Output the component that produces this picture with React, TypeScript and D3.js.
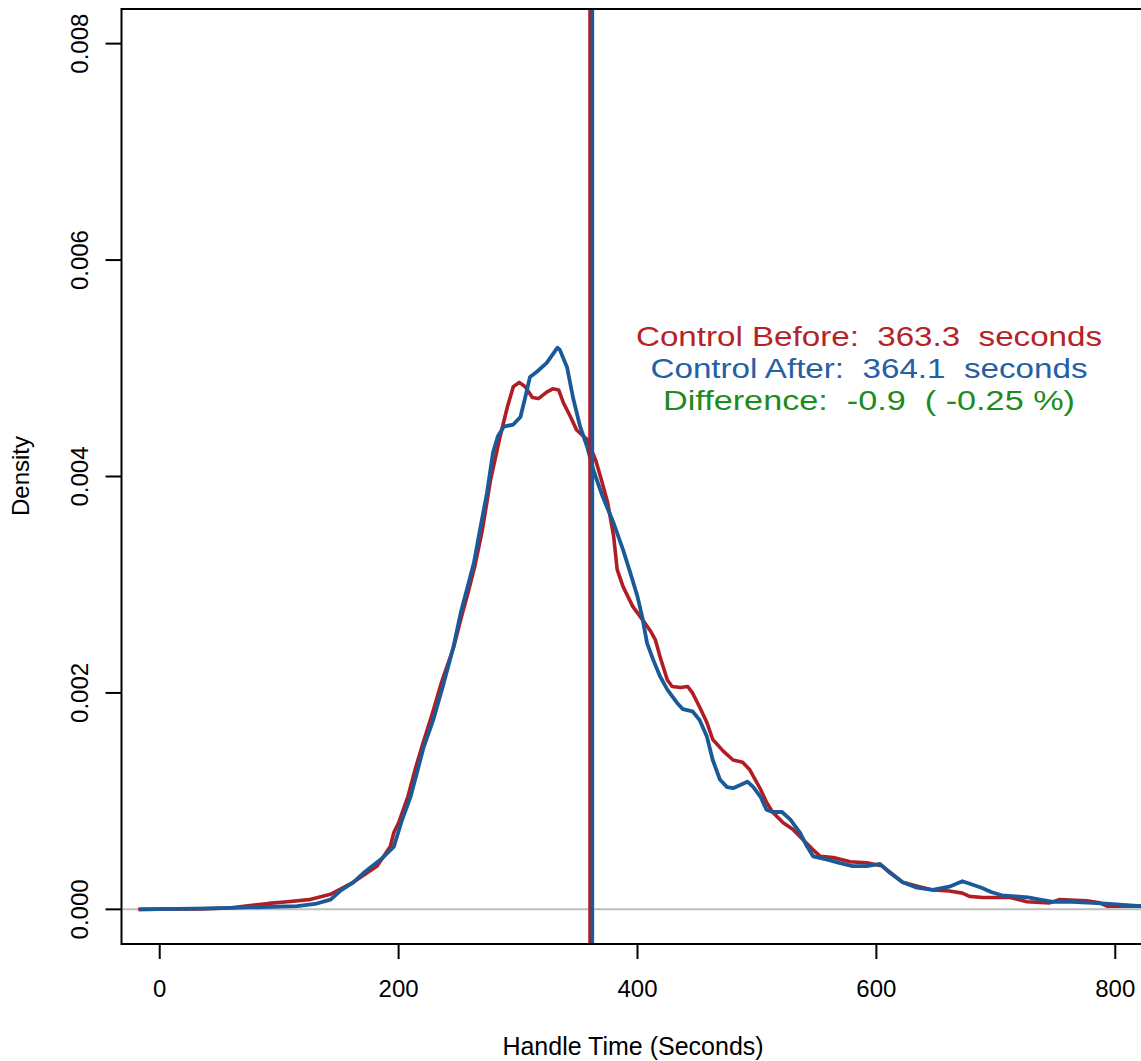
import React from "react";
import * as d3 from "d3";

const W = 1141;
const H = 1061;

// Density curves (time in seconds, density in units of 1e-3)
const beforeTime = [-18, 0, 34, 60, 91, 107, 125, 143, 162, 182, 193, 196, 200, 208, 214, 220, 228, 236, 246, 253, 258, 264, 270, 277, 285, 291, 296, 301, 306, 312, 317, 324, 329, 334, 338, 344, 349, 355, 358, 365, 369, 375, 380, 383, 388, 396, 404, 411, 415, 419, 425, 429, 436, 442, 446, 452, 458, 463, 472, 480, 488, 494, 503, 508, 513, 522, 530, 538, 547, 553, 564, 578, 592, 605, 614, 622, 636, 647, 661, 672, 678, 689, 712, 726, 745, 753, 776, 787, 793, 821, 835];
const beforeDensity = [0, 0.002, 0.005, 0.015, 0.055, 0.07, 0.09, 0.14, 0.25, 0.40, 0.58, 0.71, 0.80, 1.05, 1.30, 1.52, 1.80, 2.10, 2.42, 2.72, 2.92, 3.18, 3.50, 3.97, 4.37, 4.64, 4.83, 4.87, 4.83, 4.73, 4.72, 4.78, 4.81, 4.80, 4.68, 4.55, 4.43, 4.37, 4.34, 4.15, 4.00, 3.76, 3.45, 3.14, 2.98, 2.80, 2.68, 2.57, 2.49, 2.33, 2.12, 2.06, 2.05, 2.06, 2.00, 1.87, 1.73, 1.57, 1.46, 1.38, 1.36, 1.29, 1.11, 0.99, 0.90, 0.80, 0.74, 0.65, 0.55, 0.49, 0.48, 0.44, 0.43, 0.40, 0.32, 0.25, 0.21, 0.18, 0.17, 0.15, 0.12, 0.11, 0.11, 0.07, 0.06, 0.09, 0.08, 0.06, 0.03, 0.03, 0.02];

const afterTime = [-17, 45, 115, 130, 143, 151, 162, 171, 185, 196, 203, 210, 216, 221, 229, 237, 246, 252, 257, 263, 268, 274, 279, 283, 288, 296, 302, 306, 310, 316, 324, 333, 335, 341, 346, 352, 358, 363, 371, 380, 388, 394, 400, 404, 408, 413, 419, 425, 433, 438, 446, 452, 458, 463, 469, 475, 480, 486, 492, 497, 503, 508, 513, 521, 528, 536, 542, 547, 559, 569, 580, 592, 603, 611, 622, 634, 647, 661, 672, 680, 688, 696, 705, 716, 727, 737, 748, 764, 781, 795, 821, 835];
const afterDensity = [0, 0.01, 0.03, 0.05, 0.09, 0.17, 0.25, 0.34, 0.46, 0.58, 0.83, 1.04, 1.29, 1.50, 1.75, 2.06, 2.43, 2.74, 2.95, 3.20, 3.50, 3.85, 4.22, 4.37, 4.46, 4.48, 4.55, 4.73, 4.92, 4.97, 5.05, 5.19, 5.17, 5.01, 4.73, 4.46, 4.27, 4.06, 3.81, 3.57, 3.32, 3.11, 2.89, 2.70, 2.46, 2.31, 2.15, 2.03, 1.91, 1.85, 1.83, 1.75, 1.60, 1.38, 1.20, 1.13, 1.12, 1.15, 1.18, 1.13, 1.04, 0.92, 0.90, 0.90, 0.83, 0.71, 0.58, 0.49, 0.46, 0.43, 0.40, 0.40, 0.42, 0.34, 0.25, 0.20, 0.18, 0.21, 0.26, 0.23, 0.20, 0.16, 0.13, 0.12, 0.11, 0.09, 0.07, 0.07, 0.06, 0.05, 0.03, 0.02];

// Vertical reference lines (seconds)
const lineBefore = 360.0;
const lineAfter = 362.2;

const xTicks = [0, 200, 400, 600, 800];
const yTicks = [0, 0.002, 0.004, 0.006, 0.008];

const annotations = [
  { text: "Control Before:  363.3  seconds", color: "#B52328", width: 466 },
  { text: "Control After:  364.1  seconds", color: "#2560A4", width: 437 },
  { text: "Difference:  -0.9  ( -0.25 %)", color: "#1E8B1E", width: 412 },
];

const RED = "#B01E24";
const BLUE = "#1B5A98";
const FONT = "'Liberation Sans', Arial, Helvetica, sans-serif";

export default function App() {
  const left = 121.5;
  const right = 1153.5;
  const top = 9;
  const bottom = 944;

  const x = d3.scaleLinear().domain([-32, 832]).range([left, right]);
  const y = d3.scaleLinear().domain([-0.00032, 0.00832]).range([bottom, top]);

  const before = d3.zip(beforeTime, beforeDensity).map(([t, d]) => [t, d / 1000] as [number, number]);
  const after = d3.zip(afterTime, afterDensity).map(([t, d]) => [t, d / 1000] as [number, number]);

  const line = d3
    .line<[number, number]>()
    .x((d) => x(d[0]))
    .y((d) => y(d[1]));

  const fmt = d3.format(".3f");

  return (
    <svg
      width={W}
      height={H}
      style={{ position: "absolute", left: 0, top: 0, display: "block", background: "#fff" }}
      fontFamily={FONT}
    >
      <defs>
        <clipPath id="plotclip">
          <rect x={left} y={top} width={right - left} height={bottom - top} />
        </clipPath>
      </defs>
      <rect x={0} y={0} width={W} height={H} fill="#fff" />

      {/* baseline at 0 */}
      <line x1={left} x2={right} y1={y(0)} y2={y(0)} stroke="#BEBEBE" strokeWidth={2} />

      <g clipPath="url(#plotclip)">
        <path d={line(before) || ""} fill="none" stroke={RED} strokeWidth={3.6} strokeLinejoin="round" />
        <path d={line(after) || ""} fill="none" stroke={BLUE} strokeWidth={3.8} strokeLinejoin="round" />
        <line x1={x(lineBefore)} x2={x(lineBefore)} y1={top} y2={bottom} stroke={RED} strokeWidth={3} />
        <line x1={x(lineAfter)} x2={x(lineAfter)} y1={top} y2={bottom} stroke={BLUE} strokeWidth={3.6} />
      </g>

      {/* frame */}
      <rect x={left} y={top} width={right - left} height={bottom - top} fill="none" stroke="#000" strokeWidth={2} />

      {/* x axis */}
      {xTicks.map((t) => (
        <g key={"xt" + t}>
          <line x1={x(t)} x2={x(t)} y1={bottom} y2={bottom + 15} stroke="#000" strokeWidth={2} />
          <text x={x(t)} y={997} textAnchor="middle" fontSize={24} fill="#000">
            {t}
          </text>
        </g>
      ))}

      {/* y axis */}
      {yTicks.map((t) => (
        <g key={"yt" + t}>
          <line x1={left - 16} x2={left} y1={y(t)} y2={y(t)} stroke="#000" strokeWidth={2} />
          <text
            transform={`translate(88, ${y(t)}) rotate(-90)`}
            textAnchor="middle"
            fontSize={24}
            fill="#000"
          >
            {fmt(t)}
          </text>
        </g>
      ))}

      {/* axis titles */}
      <text x={633} y={1055} textAnchor="middle" fontSize={25} fill="#000">
        Handle Time (Seconds)
      </text>
      <text transform={`translate(29, 476) rotate(-90)`} textAnchor="middle" fontSize={24} fill="#000">
        Density
      </text>

      {/* annotation */}
      {annotations.map((a, i) => (
        <text
          key={"an" + i}
          x={869}
          y={346 + i * 32}
          textAnchor="middle"
          fontSize={27.5}
          fill={a.color}
          xmlSpace="preserve"
          style={{ whiteSpace: "pre" }}
          textLength={a.width}
          lengthAdjust="spacingAndGlyphs"
        >
          {a.text}
        </text>
      ))}
    </svg>
  );
}
